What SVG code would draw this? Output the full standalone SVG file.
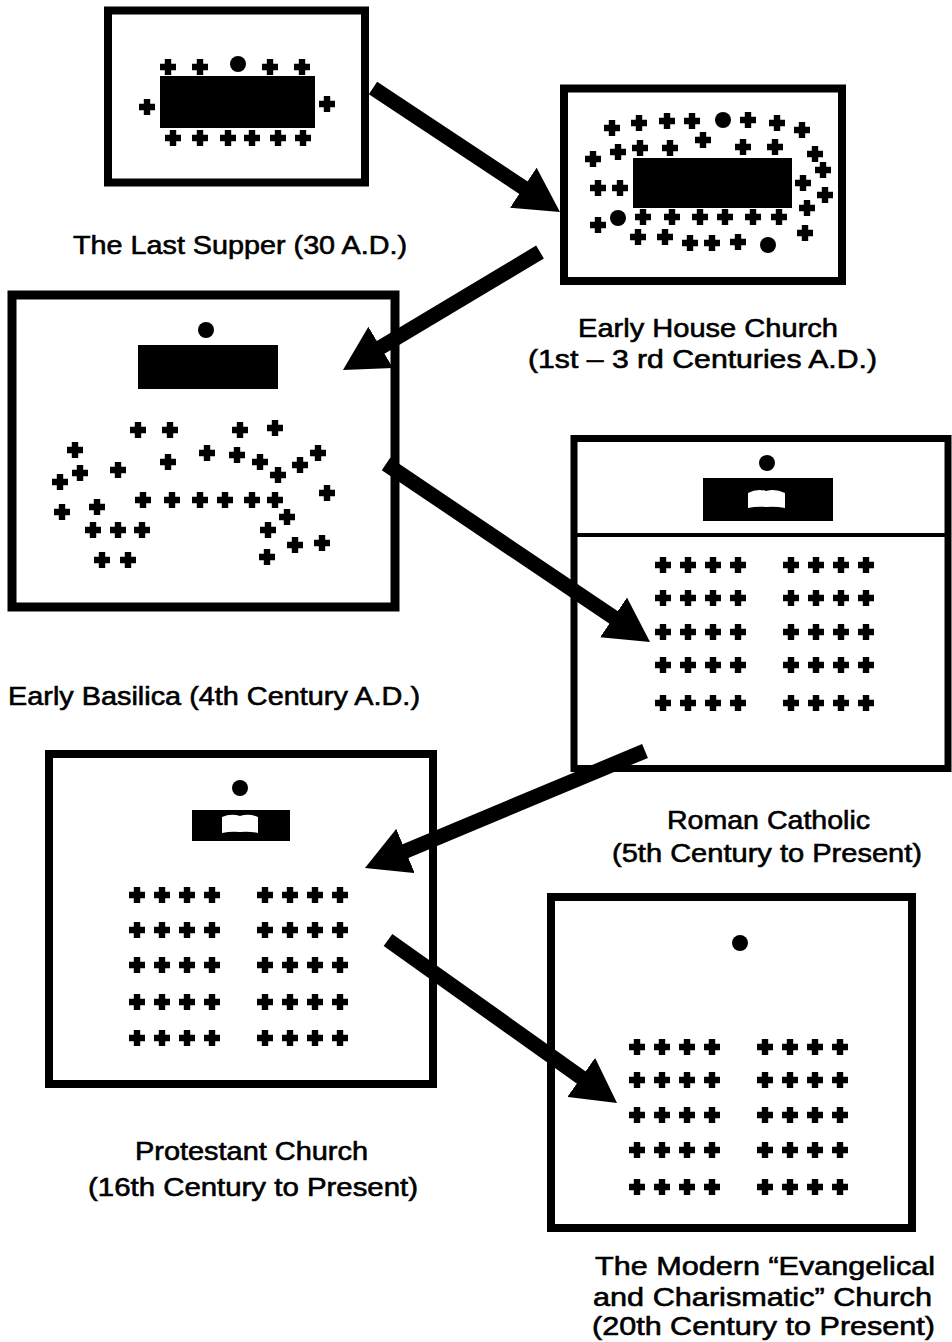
<svg xmlns="http://www.w3.org/2000/svg" xmlns:xlink="http://www.w3.org/1999/xlink" width="952" height="1342" viewBox="0 0 952 1342">
<style>
.box{fill:#fff;stroke:#000;stroke-width:8}
.blk{fill:#000}
.wht{fill:#fff}
.lbl{font-family:"Liberation Sans",Arial,sans-serif;font-size:26px;fill:#000;stroke:#000;stroke-width:0.6;text-anchor:start}
.arr{stroke:#000;stroke-width:15;fill:none}
</style>
<defs>
<path id="c" d="M-3.2,-8h6.4v4.8h4.8v6.4h-4.8v4.8h-6.4v-4.8h-4.8v-6.4h4.8z" fill="#000"/>
<marker id="ah" markerUnits="userSpaceOnUse" markerWidth="44" markerHeight="48" viewBox="0 0 44 48" refX="2" refY="24" orient="auto">
<path d="M0,0L44,24L0,48z" fill="#000"/>
</marker>
<g id="pews">
<use href="#c" x="0" y="0"/><use href="#c" x="25" y="0"/><use href="#c" x="50" y="0"/><use href="#c" x="75" y="0"/>
<use href="#c" x="128" y="0"/><use href="#c" x="153" y="0"/><use href="#c" x="178" y="0"/><use href="#c" x="203" y="0"/>
</g>
</defs>
<rect width="952" height="1342" fill="#fff"/>

<g id="last-supper">
<rect class="box" x="108" y="10.5" width="257" height="172"/>
<rect class="blk" x="160" y="76" width="155" height="52"/>
<circle class="blk" cx="238" cy="64" r="8"/>
<use href="#c" x="168" y="67"/><use href="#c" x="200" y="67"/><use href="#c" x="270" y="67"/><use href="#c" x="302" y="67"/>
<use href="#c" x="147" y="107"/><use href="#c" x="327" y="104"/>
<use href="#c" x="173" y="138"/><use href="#c" x="200" y="138"/><use href="#c" x="228" y="138"/><use href="#c" x="252" y="138"/><use href="#c" x="278" y="138"/><use href="#c" x="303" y="138"/>
<text class="lbl" x="73" y="254" textLength="334" lengthAdjust="spacingAndGlyphs">The Last Supper (30 A.D.)</text>
</g>

<g id="house-church">
<rect class="box" x="564" y="88.5" width="278" height="192.5"/>
<rect class="blk" x="633" y="158" width="159" height="50"/>
<circle class="blk" cx="723" cy="120" r="8"/>
<circle class="blk" cx="618" cy="218" r="8"/>
<circle class="blk" cx="768" cy="245" r="8"/>
<use href="#c" x="612" y="128"/><use href="#c" x="639" y="123"/><use href="#c" x="667" y="121"/><use href="#c" x="692" y="121"/><use href="#c" x="748" y="120"/><use href="#c" x="777" y="123"/><use href="#c" x="802" y="130"/>
<use href="#c" x="593" y="159"/><use href="#c" x="618" y="152"/><use href="#c" x="640" y="148"/><use href="#c" x="670" y="148"/><use href="#c" x="703" y="140"/><use href="#c" x="743" y="147"/><use href="#c" x="775" y="147"/><use href="#c" x="815" y="154"/>
<use href="#c" x="823" y="170"/><use href="#c" x="803" y="183"/><use href="#c" x="825" y="195"/><use href="#c" x="807" y="208"/><use href="#c" x="805" y="233"/>
<use href="#c" x="598" y="188"/><use href="#c" x="620" y="188"/>
<use href="#c" x="598" y="225"/><use href="#c" x="643" y="217"/><use href="#c" x="672" y="217"/><use href="#c" x="700" y="217"/><use href="#c" x="725" y="217"/><use href="#c" x="753" y="217"/><use href="#c" x="779" y="217"/>
<use href="#c" x="638" y="237"/><use href="#c" x="665" y="237"/><use href="#c" x="690" y="243"/><use href="#c" x="712" y="243"/><use href="#c" x="738" y="242"/>
<text class="lbl" x="578" y="337" textLength="260" lengthAdjust="spacingAndGlyphs">Early House Church</text>
<text class="lbl" x="528" y="368" textLength="349" lengthAdjust="spacingAndGlyphs">(1st – 3 rd Centuries A.D.)</text>
</g>

<g id="early-basilica">
<rect class="box" x="12" y="295" width="383" height="312" style="stroke-width:9"/>
<rect class="blk" x="138" y="345" width="140" height="44"/>
<circle class="blk" cx="206" cy="330" r="8"/>
<use href="#c" x="138" y="430"/><use href="#c" x="170" y="430"/><use href="#c" x="240" y="430"/><use href="#c" x="275" y="428"/>
<use href="#c" x="75" y="450"/><use href="#c" x="80" y="473"/><use href="#c" x="60" y="482"/><use href="#c" x="118" y="470"/><use href="#c" x="168" y="462"/><use href="#c" x="207" y="453"/><use href="#c" x="237" y="455"/><use href="#c" x="260" y="462"/><use href="#c" x="278" y="475"/><use href="#c" x="300" y="465"/><use href="#c" x="318" y="453"/>
<use href="#c" x="62" y="512"/><use href="#c" x="97" y="507"/><use href="#c" x="143" y="500"/><use href="#c" x="172" y="500"/><use href="#c" x="200" y="500"/><use href="#c" x="225" y="500"/><use href="#c" x="252" y="500"/><use href="#c" x="275" y="500"/><use href="#c" x="327" y="493"/><use href="#c" x="287" y="517"/>
<use href="#c" x="93" y="530"/><use href="#c" x="118" y="530"/><use href="#c" x="142" y="530"/><use href="#c" x="268" y="530"/><use href="#c" x="295" y="545"/><use href="#c" x="322" y="543"/><use href="#c" x="267" y="557"/><use href="#c" x="102" y="560"/><use href="#c" x="128" y="560"/>
<text class="lbl" x="8" y="705" textLength="412" lengthAdjust="spacingAndGlyphs">Early Basilica (4th Century A.D.)</text>
</g>

<g id="roman-catholic">
<rect class="box" x="574" y="438.5" width="374" height="330" style="stroke-width:7"/>
<line x1="574" y1="535" x2="948" y2="535" stroke="#000" stroke-width="4"/>
<rect class="blk" x="703" y="478" width="130" height="43"/>
<path class="wht" d="M748,493Q757,488 766,491Q775,488 785,493L785,508Q775,506 766,507Q757,506 748,508Z"/>
<circle class="blk" cx="767" cy="463" r="8"/>
<use href="#pews" x="663" y="565"/>
<use href="#pews" x="663" y="598"/>
<use href="#pews" x="663" y="632"/>
<use href="#pews" x="663" y="665"/>
<use href="#pews" x="663" y="703"/>
<text class="lbl" x="667" y="829" textLength="203" lengthAdjust="spacingAndGlyphs">Roman Catholic</text>
<text class="lbl" x="612" y="862" textLength="310" lengthAdjust="spacingAndGlyphs">(5th Century to Present)</text>
</g>

<g id="protestant">
<rect class="box" x="49" y="754" width="384" height="330"/>
<rect class="blk" x="192" y="810" width="98" height="31"/>
<path class="wht" d="M222,817Q231,813 240,816Q249,813 258,817L258,833Q249,831 240,832Q231,831 222,833Z"/>
<circle class="blk" cx="240" cy="788" r="8"/>
<use href="#pews" x="137" y="895"/>
<use href="#pews" x="137" y="930"/>
<use href="#pews" x="137" y="965"/>
<use href="#pews" x="137" y="1002"/>
<use href="#pews" x="137" y="1038"/>
<text class="lbl" x="135" y="1160" textLength="233" lengthAdjust="spacingAndGlyphs">Protestant Church</text>
<text class="lbl" x="88" y="1196" textLength="330" lengthAdjust="spacingAndGlyphs">(16th Century to Present)</text>
</g>

<g id="modern">
<rect class="box" x="551" y="897" width="361" height="331"/>
<circle class="blk" cx="740" cy="943" r="8"/>
<use href="#pews" x="637" y="1047"/>
<use href="#pews" x="637" y="1080"/>
<use href="#pews" x="637" y="1115"/>
<use href="#pews" x="637" y="1150"/>
<use href="#pews" x="637" y="1187"/>
<text class="lbl" x="595" y="1275" textLength="340" lengthAdjust="spacingAndGlyphs">The Modern “Evangelical</text>
<text class="lbl" x="593" y="1306" textLength="339" lengthAdjust="spacingAndGlyphs">and Charismatic” Church</text>
<text class="lbl" x="592" y="1335" textLength="343" lengthAdjust="spacingAndGlyphs">(20th Century to Present)</text>
</g>

<g id="connectors">
<line class="arr" x1="373" y1="88" x2="525" y2="188.8" marker-end="url(#ah)"/>
<line class="arr" x1="540" y1="252" x2="379" y2="348.4" marker-end="url(#ah)"/>
<line class="arr" x1="386" y1="464" x2="615.2" y2="618.5" marker-end="url(#ah)"/>
<line class="arr" x1="645" y1="751" x2="403.7" y2="851.8" marker-end="url(#ah)"/>
<line class="arr" x1="388" y1="940" x2="582.8" y2="1078.6" marker-end="url(#ah)"/>
</g>
</svg>
